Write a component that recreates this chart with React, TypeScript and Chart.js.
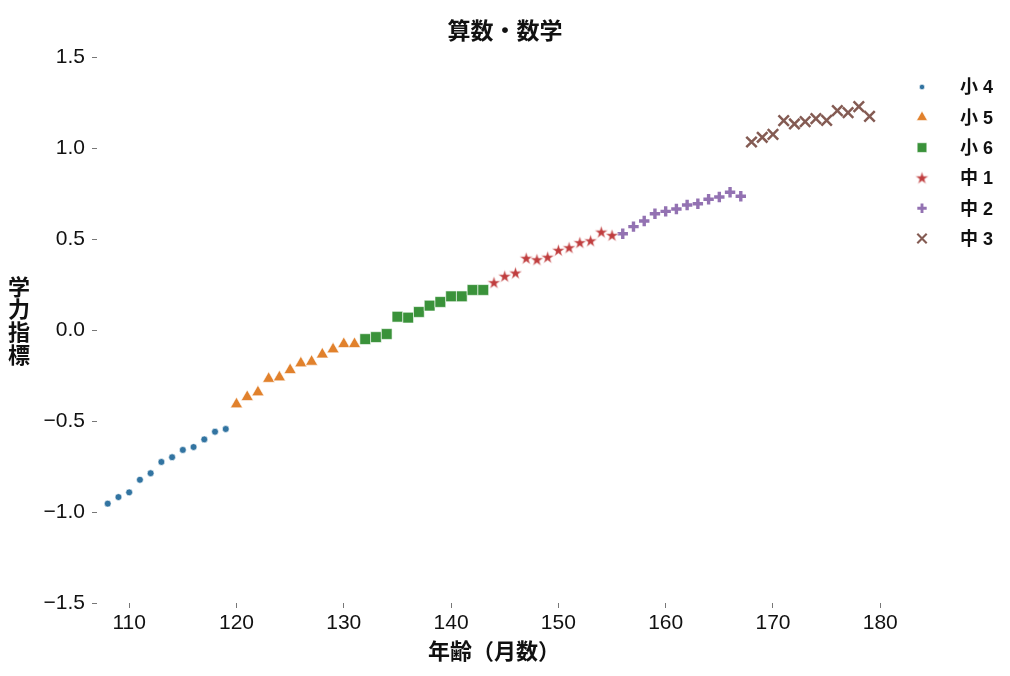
import React, { useEffect, useRef } from 'react';
import { Chart, registerables } from 'chart.js';
import { drawPoint } from 'chart.js/helpers';

Chart.register(...registerables);

const FONT = '"Liberation Sans", "Noto Sans CJK JP", sans-serif';

const chartTitle = '算数・数学';
const xTitle = '年齢（月数）';
const yTitleChars = ['学', '力', '指', '標'];
const gradeLabels = ['小 4', '小 5', '小 6', '中 1', '中 2', '中 3'];
const gradeColors = ['#3274a1', '#e1812c', '#3a923a', '#c03d3e', '#9372b2', '#845b53'];

const months4 = [108, 109, 110, 111, 112, 113, 114, 115, 116, 117, 118, 119];
const months5 = [120, 121, 122, 123, 124, 125, 126, 127, 128, 129, 130, 131];
const months6 = [132, 133, 134, 135, 136, 137, 138, 139, 140, 141, 142, 143];
const monthsJ1 = [144, 145, 146, 147, 148, 149, 150, 151, 152, 153, 154, 155];
const monthsJ2 = [156, 157, 158, 159, 160, 161, 162, 163, 164, 165, 166, 167];
const monthsJ3 = [168, 169, 170, 171, 172, 173, 174, 175, 176, 177, 178, 179];

const score4 = [-0.954, -0.918, -0.892, -0.823, -0.787, -0.725, -0.699, -0.659, -0.643, -0.601, -0.559, -0.544];
const score5 = [-0.408, -0.368, -0.342, -0.268, -0.26, -0.22, -0.183, -0.174, -0.134, -0.106, -0.077, -0.077];
const score6 = [-0.05, -0.039, -0.022, 0.073, 0.068, 0.099, 0.134, 0.154, 0.185, 0.185, 0.22, 0.22];
const scoreJ1 = [0.26, 0.295, 0.313, 0.394, 0.386, 0.4, 0.438, 0.452, 0.48, 0.49, 0.538, 0.52];
const scoreJ2 = [0.529, 0.568, 0.599, 0.639, 0.652, 0.665, 0.687, 0.694, 0.718, 0.731, 0.757, 0.735];
const scoreJ3 = [1.033, 1.059, 1.075, 1.15, 1.132, 1.145, 1.161, 1.152, 1.205, 1.194, 1.227, 1.174];

const yTicks = [-1.5, -1.0, -0.5, 0, 0.5, 1.0, 1.5];

function makeStar(color: string): HTMLCanvasElement {
  const c = document.createElement('canvas');
  c.width = 15;
  c.height = 15;
  const ctx = c.getContext('2d')!;
  const cx = 7.5, cy = 7.9, ro = 6.9, ri = 6.9 * 0.382;
  ctx.beginPath();
  for (let i = 0; i < 10; i++) {
    const r = i % 2 === 0 ? ro : ri;
    const a = -Math.PI / 2 + (i * Math.PI) / 5;
    const px = cx + r * Math.cos(a);
    const py = cy + r * Math.sin(a);
    if (i === 0) ctx.moveTo(px, py);
    else ctx.lineTo(px, py);
  }
  ctx.closePath();
  ctx.fillStyle = color;
  ctx.fill();
  ctx.lineWidth = 0.6;
  ctx.strokeStyle = 'rgba(255,255,255,0.9)';
  ctx.stroke();
  return c;
}

export default function App() {
  const ref = useRef<HTMLCanvasElement | null>(null);

  useEffect(() => {
    if (!ref.current) return;
    const star = makeStar(gradeColors[3]);
    const toPts = (ms: number[], vs: number[]) => ms.map((m, i) => ({ x: m, y: vs[i] }));

    const styles: any[] = [
      { pointStyle: 'circle', pointRadius: 3.4, fill: true },
      { pointStyle: 'triangle', pointRadius: 7, fill: true },
      { pointStyle: 'rect', pointRadius: 7.6, fill: true },
      { pointStyle: star, pointRadius: 7, fill: true },
      { pointStyle: 'cross', pointRadius: 5.2, fill: false, bw: 3.4 },
      { pointStyle: 'crossRot', pointRadius: 7.4, fill: false, bw: 2.5 },
    ];
    const series = [
      toPts(months4, score4),
      toPts(months5, score5),
      toPts(months6, score6),
      toPts(monthsJ1, scoreJ1),
      toPts(monthsJ2, scoreJ2),
      toPts(monthsJ3, scoreJ3),
    ];

    const datasets = series.map((d, i) => {
      const s = styles[i];
      return {
        label: gradeLabels[i],
        data: d,
        pointStyle: s.pointStyle,
        pointRadius: s.pointRadius,
        pointHoverRadius: s.pointRadius,
        backgroundColor: gradeColors[i],
        borderColor: s.fill ? 'rgba(255,255,255,0.85)' : gradeColors[i],
        borderWidth: s.fill ? 0.7 : s.bw,
        pointBorderWidth: s.fill ? 0.7 : s.bw,
        showLine: false,
      };
    });

    const yTitlePlugin = {
      id: 'yTitleStack',
      afterDraw(chart: any) {
        const { ctx, chartArea } = chart;
        const cy = (chartArea.top + chartArea.bottom) / 2 - 7.5;
        ctx.save();
        ctx.font = `bold 22px ${FONT}`;
        ctx.fillStyle = '#111';
        ctx.textAlign = 'center';
        ctx.textBaseline = 'middle';
        yTitleChars.forEach((ch, i) => {
          ctx.fillText(ch, 19, cy + (i - 1.5) * 22.7);
        });
        ctx.restore();
      },
    };

    const legendPlugin = {
      id: 'markerLegend',
      afterDraw(chart: any) {
        const { ctx, chartArea } = chart;
        const mx = chartArea.right + 31;
        const tx = chartArea.right + 69;
        ctx.save();
        chart.data.datasets.forEach((ds: any, i: number) => {
          const y = chartArea.top + 30 + i * 30.3;
          const s = styles[i];
          ctx.fillStyle = gradeColors[i];
          ctx.strokeStyle = s.fill ? 'rgba(255,255,255,0.85)' : gradeColors[i];
          ctx.lineWidth = s.fill ? 0.7 : s.bw * 0.85;
          const r = i === 0 ? 2.7 : s.pointRadius * 0.9;
          drawPoint(ctx, { pointStyle: s.pointStyle, radius: r, rotation: 0, borderWidth: ctx.lineWidth }, mx, y);
          ctx.font = `bold 18px ${FONT}`;
          ctx.fillStyle = '#111';
          ctx.textAlign = 'left';
          ctx.textBaseline = 'middle';
          ctx.fillText(ds.label, tx, y + 1.5);
        });
        ctx.restore();
      },
    };

    const chart = new Chart(ref.current, {
      type: 'scatter',
      data: { datasets: datasets as any },
      options: {
        responsive: true,
        maintainAspectRatio: false,
        animation: false,
        layout: { padding: { left: 0, right: 0, top: 0, bottom: 0 } },
        plugins: {
          legend: { display: false },
          tooltip: { enabled: false },
          title: {
            display: true,
            text: chartTitle,
            color: '#111',
            font: { family: FONT, size: 23, weight: 'bold' },
            padding: { top: 19, bottom: 10.4 },
          },
        },
        scales: {
          x: {
            type: 'linear',
            min: 107,
            max: 181,
            afterFit: (s: any) => { s.height = 73; },
            border: { display: false },
            grid: { drawOnChartArea: false, drawTicks: true, tickLength: 5, color: '#777' },
            ticks: {
              stepSize: 10,
              includeBounds: false,
              padding: 3,
              color: '#111',
              font: { family: FONT, size: 21 },
              maxRotation: 0,
            },
            title: {
              display: true,
              text: xTitle,
              color: '#111',
              font: { family: FONT, size: 22, weight: 'bold' },
              padding: { top: 0, bottom: 10 },
            },
          },
          y: {
            type: 'linear',
            min: yTicks[0],
            max: yTicks[yTicks.length - 1],
            afterFit: (s: any) => { s.width = 97; },
            afterBuildTicks: (s: any) => { s.ticks = yTicks.map((v) => ({ value: v })); },
            border: { display: false },
            grid: { drawOnChartArea: false, drawTicks: true, tickLength: 5, color: '#777' },
            ticks: {
              padding: 7,
              color: '#111',
              font: { family: FONT, size: 21 },
              callback: (v: any) => {
                const n = Number(v);
                return (n < 0 ? '\u2212' : '') + Math.abs(n).toFixed(1);
              },
            },
          },
          legendSpace: {
            type: 'linear',
            position: 'right',
            display: true,
            afterFit: (s: any) => { s.width = 119; },
            border: { display: false },
            grid: { display: false, drawTicks: false },
            ticks: { display: false },
          },
        },
      },
      plugins: [yTitlePlugin, legendPlugin],
    });

    return () => chart.destroy();
  }, []);

  return (
    <div style={{ position: 'fixed', left: 0, top: 0, width: 1010, height: 676, background: '#fff' }}>
      <canvas ref={ref} />
    </div>
  );
}
